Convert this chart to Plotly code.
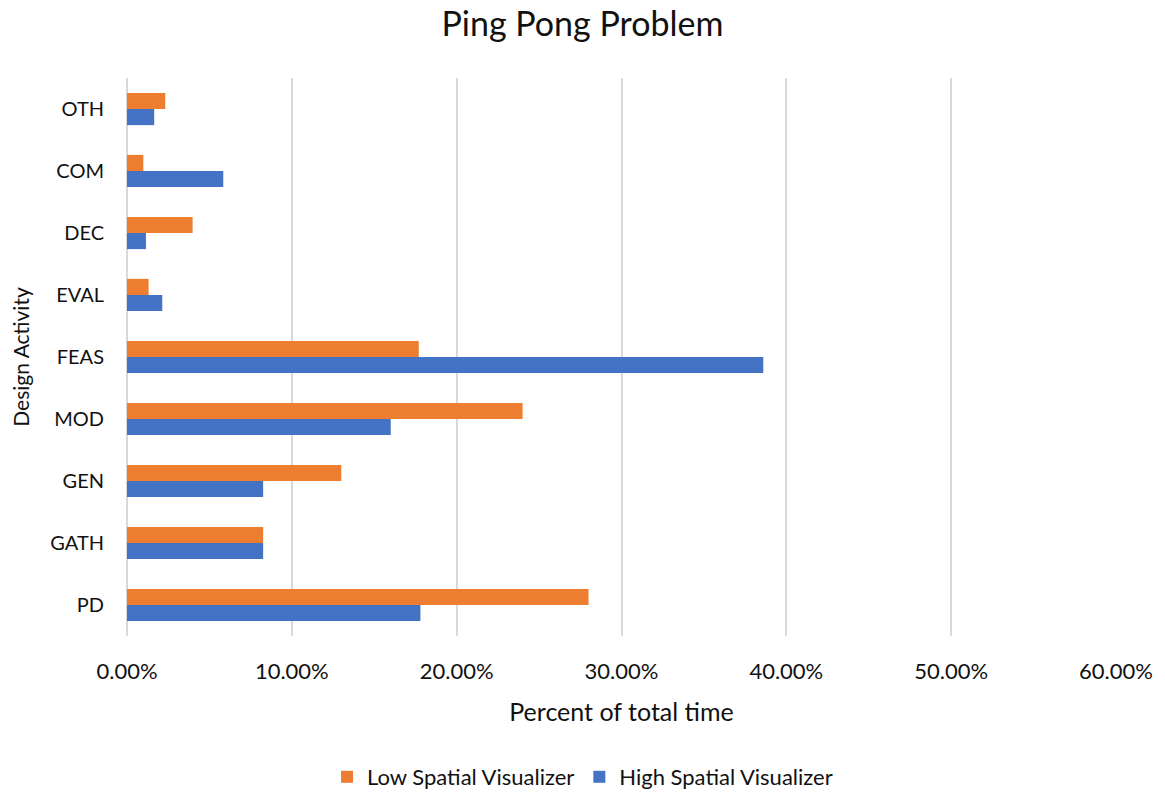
import plotly.graph_objects as go

categories = ["PD", "GATH", "GEN", "MOD", "FEAS", "EVAL", "DEC", "COM", "OTH"]
low_spatial = [0.280, 0.0826, 0.130, 0.240, 0.177, 0.0131, 0.0398, 0.0099, 0.0232]
high_spatial = [0.178, 0.0826, 0.0826, 0.160, 0.386, 0.0214, 0.0115, 0.0584, 0.0165]
x_ticks = [0, 0.1, 0.2, 0.3, 0.4, 0.5, 0.6]

FONT = "Lato, Carlito, 'Open Sans', sans-serif"
TXT = "#111111"

fig = go.Figure()
fig.add_trace(go.Bar(
    y=categories, x=high_spatial, orientation="h", name="High Spatial Visualizer",
    marker=dict(color="#4472C4", line=dict(width=0)),
))
fig.add_trace(go.Bar(
    y=categories, x=low_spatial, orientation="h", name="Low Spatial Visualizer",
    marker=dict(color="#ED7D31", line=dict(width=0)),
))

fig.update_layout(
    width=1165, height=793,
    margin=dict(l=127, r=47, t=78, b=157),
    paper_bgcolor="white", plot_bgcolor="white",
    font=dict(family=FONT, size=18, color=TXT),
    title=dict(text="Ping Pong Problem", x=0.5, xref="container", xanchor="center",
               y=1 - 24 / 793, yref="container", yanchor="middle",
               font=dict(size=34, color=TXT, family=FONT)),
    barmode="group", bargap=0.48, bargroupgap=0,
    showlegend=True,
    legend=dict(orientation="h", traceorder="reversed", x=0.5, xref="container",
                xanchor="center", y=1 - 777 / 793, yref="container", yanchor="middle",
                font=dict(size=22, color=TXT), itemwidth=30, entrywidth=0),
    xaxis=dict(range=[0, 0.6], tickvals=x_ticks, tickformat=".2%",
               showgrid=True, gridcolor="#d9d9d9", gridwidth=2,
               zeroline=True, zerolinecolor="#d9d9d9", zerolinewidth=2,
               showline=False, ticks="", ticklabelstandoff=20,
               tickfont=dict(size=22, color=TXT),
               title=dict(text="Percent of total time", standoff=20,
                          font=dict(size=25, color=TXT))),
    yaxis=dict(categoryorder="array", categoryarray=categories,
               showgrid=False, zeroline=False, showline=False, ticks="",
               ticklabelstandoff=22, tickfont=dict(size=20, color=TXT),
               title=dict(text="Design Activity", standoff=14,
                          font=dict(size=21, color=TXT))),
)

fig.write_html("out.html")
